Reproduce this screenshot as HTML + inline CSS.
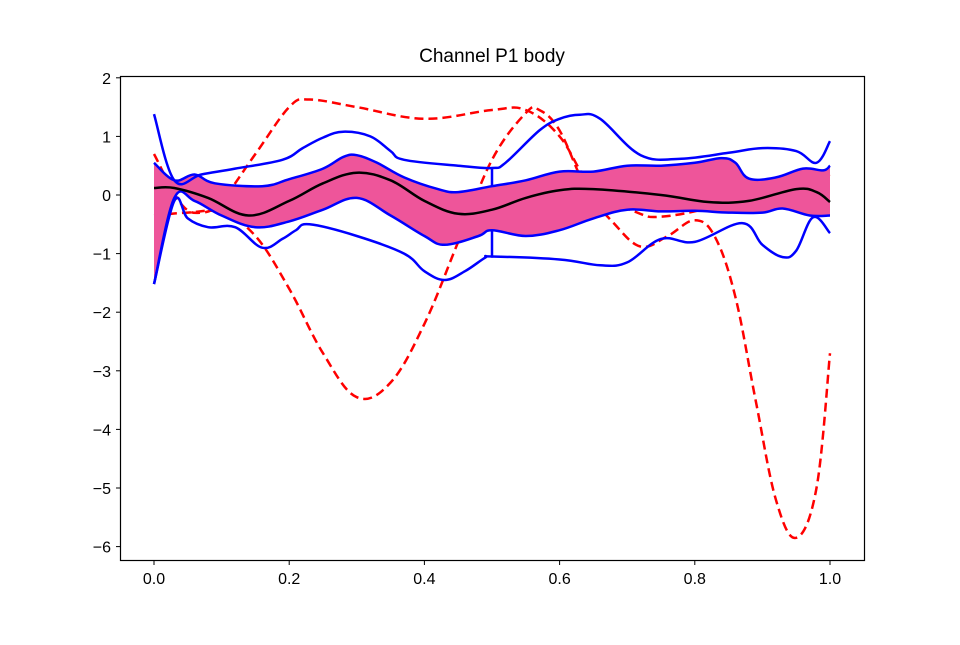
<!DOCTYPE html>
<html><head><meta charset="utf-8"><style>
body{margin:0;background:#fff}
svg text{font-family:"Liberation Sans","DejaVu Sans",sans-serif}
</style></head><body>
<svg id="c" width="960" height="640" xmlns="http://www.w3.org/2000/svg">
<text x="492" y="62" font-size="19" text-anchor="middle">Channel P1 body</text>
<g id="plot"></g>
<rect x="120.5" y="76.5" width="744" height="484" fill="none" stroke="#000" stroke-width="1.2"/>
<g id="axes"></g>
</svg>
<script>
const xTicks=[0,0.2,0.4,0.6,0.8,1.0];
const xTickLabels=["0.0","0.2","0.4","0.6","0.8","1.0"];
const yTicks=[2,1,0,-1,-2,-3,-4,-5,-6];
const yTickLabels=["2","1","0","\u22121","\u22122","\u22123","\u22124","\u22125","\u22126"];
const bandUpper=[[0,0.55],[0.03,0.25],[0.06,0.35],[0.09,0.2],[0.16,0.15],[0.2,0.27],[0.25,0.45],[0.28,0.65],[0.3,0.68],[0.33,0.55],[0.37,0.3],[0.42,0.1],[0.45,0.05],[0.5,0.15],[0.55,0.25],[0.6,0.4],[0.65,0.4],[0.7,0.5],[0.75,0.5],[0.8,0.55],[0.84,0.63],[0.86,0.55],[0.88,0.28],[0.92,0.3],[0.96,0.45],[0.99,0.42],[1.0,0.5]];
const bandLower=[[0,-1.52],[0.03,-0.05],[0.06,-0.1],[0.1,-0.35],[0.15,-0.55],[0.2,-0.45],[0.25,-0.25],[0.3,-0.05],[0.35,-0.35],[0.4,-0.7],[0.43,-0.85],[0.48,-0.7],[0.5,-0.6],[0.55,-0.7],[0.6,-0.6],[0.65,-0.4],[0.7,-0.25],[0.75,-0.28],[0.8,-0.27],[0.85,-0.3],[0.9,-0.3],[0.93,-0.23],[0.97,-0.35],[1.0,-0.35]];
const upperWhisker=[[0,1.38],[0.03,0.25],[0.07,0.35],[0.12,0.45],[0.19,0.6],[0.22,0.8],[0.25,0.98],[0.28,1.08],[0.32,1.0],[0.35,0.75],[0.37,0.6],[0.45,0.5],[0.5,0.46],[0.52,0.55],[0.57,1.1],[0.6,1.3],[0.63,1.37],[0.66,1.3],[0.72,0.68],[0.78,0.62],[0.85,0.72],[0.9,0.8],[0.95,0.75],[0.98,0.55],[1.0,0.92]];
const lowerWhisker=[[0,-1.52],[0.03,-0.1],[0.05,-0.4],[0.08,-0.55],[0.12,-0.55],[0.16,-0.9],[0.19,-0.75],[0.21,-0.6],[0.23,-0.5],[0.3,-0.7],[0.37,-1.0],[0.4,-1.3],[0.43,-1.45],[0.46,-1.3],[0.49,-1.07],[0.5,-1.05],[0.6,-1.1],[0.66,-1.2],[0.7,-1.15],[0.75,-0.75],[0.8,-0.8],[0.87,-0.48],[0.9,-0.85],[0.93,-1.06],[0.95,-0.95],[0.975,-0.38],[1.0,-0.65]];
const medianCurve=[[0,0.12],[0.03,0.12],[0.08,-0.05],[0.14,-0.35],[0.2,-0.1],[0.25,0.2],[0.3,0.38],[0.35,0.25],[0.4,-0.1],[0.45,-0.32],[0.5,-0.25],[0.55,-0.05],[0.6,0.08],[0.65,0.1],[0.75,0],[0.82,-0.12],[0.88,-0.1],[0.95,0.1],[0.98,0.05],[1.0,-0.12]];
const outlierA=[[0,0.7],[0.04,-0.15],[0.07,-0.3],[0.1,-0.1],[0.15,0.7],[0.2,1.5],[0.23,1.63],[0.3,1.5],[0.4,1.3],[0.5,1.45],[0.55,1.45],[0.6,1.0],[0.65,0.1],[0.715,-0.3],[0.75,-0.37],[0.82,-0.22],[0.9,0.1],[1.0,0.35]];
const outlierB=[[0,-0.35],[0.05,-0.3],[0.1,-0.3],[0.15,-0.7],[0.2,-1.6],[0.25,-2.7],[0.3,-3.45],[0.35,-3.2],[0.4,-2.2],[0.45,-0.8],[0.5,0.6],[0.55,1.4],[0.57,1.45],[0.6,1.1],[0.64,0.1],[0.68,-0.48],[0.72,-0.88],[0.76,-0.7],[0.8,-0.43],[0.83,-0.72],[0.86,-1.74],[0.89,-3.5],[0.92,-5.2],[0.95,-5.85],[0.98,-5],[1.0,-2.7]];
const NS="http://www.w3.org/2000/svg";
const X=v=>154+676*v, Y=v=>195-58.6*v;
const plot=document.getElementById('plot'), axes=document.getElementById('axes');
function mk(tag,attrs,parent){const e=document.createElementNS(NS,tag);for(const k in attrs)e.setAttribute(k,attrs[k]);parent.appendChild(e);return e;}
function smooth(a,start){const p=a.map(q=>[X(q[0]),Y(q[1])]);let d=start?"M"+p[0][0].toFixed(1)+","+p[0][1].toFixed(1):"L"+p[0][0].toFixed(1)+","+p[0][1].toFixed(1);
for(let i=0;i<p.length-1;i++){const p0=p[i-1]||p[i],p1=p[i],p2=p[i+1],p3=p[i+2]||p2;const t=0.18;
d+=" C"+(p1[0]+(p2[0]-p0[0])*t).toFixed(1)+","+(p1[1]+(p2[1]-p0[1])*t).toFixed(1)+" "+(p2[0]-(p3[0]-p1[0])*t).toFixed(1)+","+(p2[1]-(p3[1]-p1[1])*t).toFixed(1)+" "+p2[0].toFixed(1)+","+p2[1].toFixed(1);}
return d;}
function line(a,color,name,dash){const e=mk('path',{d:smooth(a,true),fill:"none",stroke:color,"stroke-width":2.5,"stroke-linejoin":"round"},plot);if(dash)e.setAttribute('stroke-dasharray',dash);

return e;}
line(outlierA,"#ff0000","outlier-curve-a","9,5");
line(outlierB,"#ff0000","outlier-curve-b","9,5");
let band=mk('path',{d:smooth(bandUpper,true)+" "+smooth(bandLower.slice().reverse(),false)+" Z",fill:"#ee559a",stroke:"none"},plot);


line(bandUpper,"#0000ff","band-upper-edge");
line(bandLower,"#0000ff","band-lower-edge");
line(upperWhisker,"#0000ff","upper-envelope");
line(lowerWhisker,"#0000ff","lower-envelope");
line([[0.5,0.46],[0.5,0.15]],"#0000ff","upper-whisker-connector");
line([[0.5,-0.6],[0.5,-1.07]],"#0000ff","lower-whisker-connector");
line(medianCurve,"#000000","median-curve");
xTicks.forEach((t,i)=>{const x=X(t);
const tk=mk('line',{x1:x,x2:x,y1:560.5,y2:565,stroke:"#000","stroke-width":1},axes);


const tx=mk('text',{x:x,y:584,"font-size":16,"text-anchor":"middle"},axes);tx.textContent=xTickLabels[i];

});
yTicks.forEach((t,i)=>{const y=Y(t);
const tk=mk('line',{x1:116,x2:120.5,y1:y,y2:y,stroke:"#000","stroke-width":1},axes);


const tx=mk('text',{x:111,y:y+6,"font-size":16,"text-anchor":"end"},axes);tx.textContent=yTickLabels[i];

});
</script>
</body></html>
